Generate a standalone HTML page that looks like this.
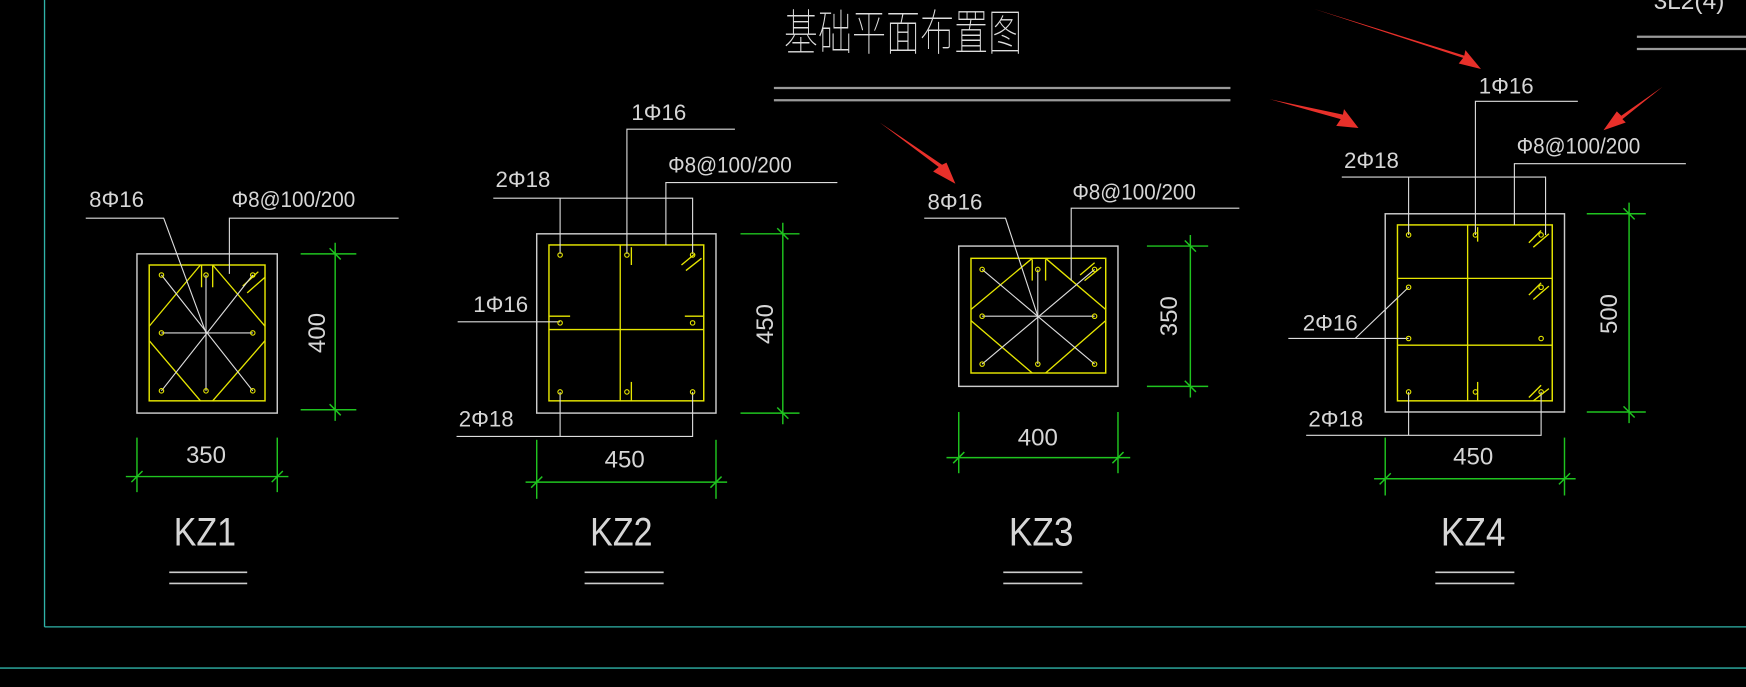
<!DOCTYPE html>
<html><head><meta charset="utf-8"><style>
html,body{margin:0;padding:0;background:#000;width:1746px;height:687px;overflow:hidden}
svg{display:block}
text{font-family:"Liberation Sans Narrow","Liberation Sans",sans-serif;fill:#d6d6d6}
.cn{font-family:"Liberation Sans","Noto Sans CJK SC",sans-serif}
</style></head><body>
<svg width="1746" height="687" viewBox="0 0 1568 617" preserveAspectRatio="none" xmlns="http://www.w3.org/2000/svg">
<rect width="1568" height="617" fill="#000"/>
<g stroke="#2fb3a8" stroke-width="1.2" fill="none">
<line x1="40" y1="0" x2="40" y2="563"/>
<line x1="40" y1="563" x2="1568" y2="563"/>
<line x1="0" y1="600" x2="1568" y2="600"/>
</g>
<text class="cn" x="704" y="45" font-size="44" textLength="214" lengthAdjust="spacingAndGlyphs" style="fill:#ddd;font-weight:100">基础平面布置图</text>
<g stroke="#9a9a9a" stroke-width="2">
<line x1="695" y1="79" x2="1105" y2="79"/><line x1="695" y1="90" x2="1105" y2="90"/>
<line x1="1470" y1="33" x2="1568" y2="33"/><line x1="1470" y1="44" x2="1568" y2="44"/>
</g>
<text x="1485" y="8" font-size="22">3L2(4)</text>

<!-- KZ1 -->
<g fill="none">
<rect x="123" y="228" width="126" height="143" stroke="#ccc" stroke-width="1.3"/>
<rect x="134" y="238" width="104" height="122" stroke="#e6e600" stroke-width="1.3"/>
<g stroke="#e6e600" stroke-width="1.2">
<line x1="180" y1="238" x2="134" y2="293"/><line x1="191" y1="238" x2="238" y2="293"/>
<line x1="134" y1="306" x2="180" y2="360"/><line x1="238" y1="306" x2="191" y2="360"/>
<line x1="181" y1="238" x2="181" y2="258"/><line x1="191" y1="238" x2="191" y2="258"/>
<line x1="218" y1="257" x2="232" y2="244"/><line x1="222" y1="263" x2="238" y2="249"/>
</g>
<g stroke="#ddd" stroke-width="1">
<line x1="145" y1="247" x2="227" y2="351"/><line x1="227" y1="247" x2="145" y2="351"/>
<line x1="145" y1="299" x2="227" y2="299"/><line x1="185" y1="247" x2="185" y2="351"/>
<polyline points="77,196 147,196 185,299"/>
<polyline points="206,246 206,196 358,196"/>
</g>
<g stroke="#e6e600" stroke-width="1"><circle cx="145" cy="247" r="2"/><circle cx="185" cy="247" r="2"/><circle cx="227" cy="247" r="2"/><circle cx="145" cy="299" r="2"/><circle cx="227" cy="299" r="2"/><circle cx="145" cy="351" r="2"/><circle cx="185" cy="351" r="2"/><circle cx="227" cy="351" r="2"/></g>
<g stroke="#1fc41f" stroke-width="1.3">
<line x1="301" y1="218" x2="301" y2="378"/><line x1="270" y1="228" x2="320" y2="228"/><line x1="270" y1="368" x2="320" y2="368"/>
<line x1="296" y1="223" x2="306" y2="233"/><line x1="296" y1="363" x2="306" y2="373"/>
<line x1="113" y1="428" x2="259" y2="428"/><line x1="123" y1="393" x2="123" y2="442"/><line x1="249" y1="393" x2="249" y2="442"/>
<line x1="118" y1="433" x2="128" y2="423"/><line x1="244" y1="433" x2="254" y2="423"/>
</g>
</g>
<text x="80" y="186" font-size="20">8Φ16</text>
<text x="208" y="186" font-size="20" textLength="111" lengthAdjust="spacingAndGlyphs">Φ8@100/200</text>
<text x="0" y="0" font-size="22" transform="translate(292,317) rotate(-90)" textLength="36" lengthAdjust="spacingAndGlyphs">400</text>
<text x="167" y="416" font-size="22" textLength="36" lengthAdjust="spacingAndGlyphs">350</text>
<text x="156" y="490" font-size="36" textLength="56" lengthAdjust="spacingAndGlyphs">KZ1</text>
<g stroke="#ccc" stroke-width="1.5"><line x1="152" y1="514" x2="222" y2="514"/><line x1="152" y1="524" x2="222" y2="524"/></g>

<!-- KZ2 -->
<g fill="none">
<rect x="482" y="210" width="161" height="161" stroke="#ccc" stroke-width="1.3"/>
<rect x="493" y="220" width="139" height="140" stroke="#e6e600" stroke-width="1.3"/>
<g stroke="#e6e600" stroke-width="1.2">
<line x1="557" y1="220" x2="557" y2="360"/><line x1="493" y1="296" x2="632" y2="296"/>
<line x1="567" y1="222" x2="567" y2="238"/><line x1="567" y1="343" x2="567" y2="360"/>
<line x1="493" y1="284" x2="512" y2="284"/><line x1="615" y1="284" x2="632" y2="284"/>
<line x1="612" y1="238" x2="624" y2="228"/><line x1="616" y1="243" x2="630" y2="232"/>
</g>
<g stroke="#ddd" stroke-width="1">
<polyline points="563,228 563,116 660,116"/>
<polyline points="443,178 622,178 622,228"/><line x1="503" y1="178" x2="503" y2="228"/>
<polyline points="598,220 598,164 752,164"/>
<line x1="411" y1="289" x2="503" y2="289"/>
<polyline points="410,392 622,392 622,352"/><line x1="503" y1="392" x2="503" y2="352"/>
</g>
<g stroke="#e6e600" stroke-width="1"><circle cx="503" cy="229" r="2"/><circle cx="563" cy="229" r="2"/><circle cx="622" cy="229" r="2"/><circle cx="503" cy="290" r="2"/><circle cx="622" cy="290" r="2"/><circle cx="503" cy="352" r="2"/><circle cx="563" cy="352" r="2"/><circle cx="622" cy="352" r="2"/></g>
<g stroke="#1fc41f" stroke-width="1.3">
<line x1="703" y1="200" x2="703" y2="381"/><line x1="665" y1="210" x2="718" y2="210"/><line x1="665" y1="371" x2="718" y2="371"/>
<line x1="698" y1="205" x2="708" y2="215"/><line x1="698" y1="366" x2="708" y2="376"/>
<line x1="472" y1="433" x2="653" y2="433"/><line x1="482" y1="395" x2="482" y2="448"/><line x1="643" y1="395" x2="643" y2="448"/>
<line x1="477" y1="438" x2="487" y2="428"/><line x1="638" y1="438" x2="648" y2="428"/>
</g>
</g>
<text x="567" y="108" font-size="20">1Φ16</text>
<text x="445" y="168" font-size="20">2Φ18</text>
<text x="600" y="155" font-size="20" textLength="111" lengthAdjust="spacingAndGlyphs">Φ8@100/200</text>
<text x="425" y="280" font-size="20">1Φ16</text>
<text x="412" y="383" font-size="20">2Φ18</text>
<text x="0" y="0" font-size="22" transform="translate(694,309) rotate(-90)" textLength="36" lengthAdjust="spacingAndGlyphs">450</text>
<text x="543" y="420" font-size="22" textLength="36" lengthAdjust="spacingAndGlyphs">450</text>
<text x="530" y="490" font-size="36" textLength="56" lengthAdjust="spacingAndGlyphs">KZ2</text>
<g stroke="#ccc" stroke-width="1.5"><line x1="525" y1="514" x2="596" y2="514"/><line x1="525" y1="524" x2="596" y2="524"/></g>

<!-- KZ3 -->
<g fill="none">
<rect x="861" y="221" width="143" height="126" stroke="#ccc" stroke-width="1.3"/>
<rect x="872" y="232" width="121" height="103" stroke="#e6e600" stroke-width="1.3"/>
<g stroke="#e6e600" stroke-width="1.2">
<line x1="927" y1="232" x2="872" y2="278"/><line x1="939" y1="232" x2="993" y2="278"/>
<line x1="872" y1="288" x2="927" y2="335"/><line x1="993" y1="288" x2="939" y2="335"/>
<line x1="927" y1="233" x2="927" y2="252"/><line x1="939" y1="233" x2="939" y2="252"/>
<line x1="970" y1="247" x2="983" y2="236"/><line x1="974" y1="252" x2="989" y2="240"/>
</g>
<g stroke="#ddd" stroke-width="1">
<line x1="882" y1="242" x2="983" y2="327"/><line x1="983" y1="242" x2="882" y2="327"/>
<line x1="882" y1="284" x2="983" y2="284"/><line x1="932" y1="242" x2="932" y2="327"/>
<polyline points="830,196 903,196 932,284"/>
<polyline points="962,252 962,187 1113,187"/>
</g>
<g stroke="#e6e600" stroke-width="1"><circle cx="882" cy="242" r="2"/><circle cx="932" cy="242" r="2"/><circle cx="983" cy="242" r="2"/><circle cx="882" cy="284" r="2"/><circle cx="983" cy="284" r="2"/><circle cx="882" cy="327" r="2"/><circle cx="932" cy="327" r="2"/><circle cx="983" cy="327" r="2"/></g>
<g stroke="#1fc41f" stroke-width="1.3">
<line x1="1069" y1="211" x2="1069" y2="357"/><line x1="1030" y1="221" x2="1085" y2="221"/><line x1="1030" y1="347" x2="1085" y2="347"/>
<line x1="1064" y1="216" x2="1074" y2="226"/><line x1="1064" y1="342" x2="1074" y2="352"/>
<line x1="850" y1="411" x2="1015" y2="411"/><line x1="861" y1="370" x2="861" y2="425"/><line x1="1004" y1="370" x2="1004" y2="425"/>
<line x1="856" y1="416" x2="866" y2="406"/><line x1="999" y1="416" x2="1009" y2="406"/>
</g>
</g>
<text x="833" y="188" font-size="20">8Φ16</text>
<text x="963" y="179" font-size="20" textLength="111" lengthAdjust="spacingAndGlyphs">Φ8@100/200</text>
<text x="0" y="0" font-size="22" transform="translate(1057,302) rotate(-90)" textLength="36" lengthAdjust="spacingAndGlyphs">350</text>
<text x="914" y="400" font-size="22" textLength="36" lengthAdjust="spacingAndGlyphs">400</text>
<text x="906" y="490" font-size="36" textLength="58" lengthAdjust="spacingAndGlyphs">KZ3</text>
<g stroke="#ccc" stroke-width="1.5"><line x1="901" y1="514" x2="972" y2="514"/><line x1="901" y1="524" x2="972" y2="524"/></g>

<!-- KZ4 -->
<g fill="none">
<rect x="1244" y="192" width="161" height="178" stroke="#ccc" stroke-width="1.3"/>
<rect x="1255" y="202" width="139" height="158" stroke="#e6e600" stroke-width="1.3"/>
<g stroke="#e6e600" stroke-width="1.2">
<line x1="1318" y1="202" x2="1318" y2="360"/><line x1="1255" y1="250" x2="1394" y2="250"/><line x1="1255" y1="310" x2="1394" y2="310"/>
<line x1="1327" y1="204" x2="1327" y2="217"/><line x1="1327" y1="343" x2="1327" y2="360"/>
<line x1="1373" y1="218" x2="1384" y2="207"/><line x1="1377" y1="222" x2="1391" y2="210"/>
<line x1="1373" y1="265" x2="1384" y2="254"/><line x1="1377" y1="269" x2="1391" y2="257"/>
<line x1="1373" y1="357" x2="1384" y2="346"/><line x1="1377" y1="360" x2="1391" y2="349"/>
</g>
<g stroke="#ddd" stroke-width="1">
<polyline points="1325,211 1325,91 1417,91"/>
<polyline points="1205,159 1388,159 1388,211"/><line x1="1265" y1="159" x2="1265" y2="211"/>
<polyline points="1360,202 1360,147 1514,147"/>
<line x1="1157" y1="304" x2="1265" y2="304"/><line x1="1217" y1="304" x2="1265" y2="258"/>
<polyline points="1173,391 1384,391 1384,352"/><line x1="1265" y1="391" x2="1265" y2="352"/>
</g>
<g stroke="#e6e600" stroke-width="1"><circle cx="1265" cy="211" r="2"/><circle cx="1325" cy="211" r="2"/><circle cx="1384" cy="211" r="2"/><circle cx="1265" cy="258" r="2"/><circle cx="1384" cy="258" r="2"/><circle cx="1265" cy="304" r="2"/><circle cx="1384" cy="304" r="2"/><circle cx="1265" cy="352" r="2"/><circle cx="1325" cy="352" r="2"/><circle cx="1384" cy="352" r="2"/></g>
<g stroke="#1fc41f" stroke-width="1.3">
<line x1="1463" y1="182" x2="1463" y2="380"/><line x1="1425" y1="192" x2="1478" y2="192"/><line x1="1425" y1="370" x2="1478" y2="370"/>
<line x1="1458" y1="187" x2="1468" y2="197"/><line x1="1458" y1="365" x2="1468" y2="375"/>
<line x1="1234" y1="430" x2="1415" y2="430"/><line x1="1244" y1="393" x2="1244" y2="445"/><line x1="1405" y1="393" x2="1405" y2="445"/>
<line x1="1239" y1="435" x2="1249" y2="425"/><line x1="1400" y1="435" x2="1410" y2="425"/>
</g>
</g>
<text x="1328" y="84" font-size="20">1Φ16</text>
<text x="1207" y="151" font-size="20">2Φ18</text>
<text x="1362" y="138" font-size="20" textLength="111" lengthAdjust="spacingAndGlyphs">Φ8@100/200</text>
<text x="1170" y="297" font-size="20">2Φ16</text>
<text x="1175" y="383" font-size="20">2Φ18</text>
<text x="0" y="0" font-size="22" transform="translate(1452,300) rotate(-90)" textLength="36" lengthAdjust="spacingAndGlyphs">500</text>
<text x="1305" y="417" font-size="22" textLength="36" lengthAdjust="spacingAndGlyphs">450</text>
<text x="1294" y="490" font-size="36" textLength="58" lengthAdjust="spacingAndGlyphs">KZ4</text>
<g stroke="#ccc" stroke-width="1.5"><line x1="1289" y1="514" x2="1360" y2="514"/><line x1="1289" y1="524" x2="1360" y2="524"/></g>

<g fill="#e8302a">
<polygon points="1180,8 1314,52 1310,57 1330,62 1316,45 1315,50"/>
<polygon points="1140,89 1204,107 1200,113 1220,115 1207,98 1206,103"/>
<polygon points="790,110 843,150 838,154 858,165 850,146 846,148"/>
<polygon points="1493,78 1456,104 1452,100 1440,117 1460,110 1457,107"/>
</g>
</svg>
</body></html>
